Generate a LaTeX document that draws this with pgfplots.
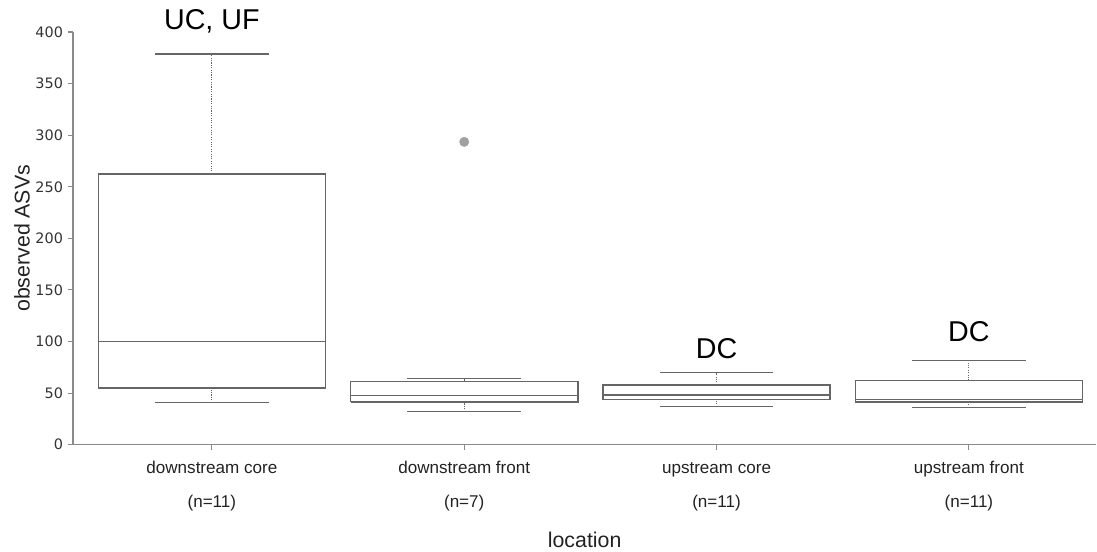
\documentclass[border=0pt]{standalone}
\usepackage{pgfplots}
\pgfplotsset{compat=1.18}
\usepackage{fontspec}
\setmainfont{Liberation Sans}
\newfontfamily\dejavu{DejaVu Sans}
\definecolor{boxgray}{HTML}{666666}
\definecolor{axgray}{HTML}{8A8A8A}
\definecolor{txt}{HTML}{222222}
\definecolor{outl}{HTML}{A0A0A0}
\begin{document}
\begin{tikzpicture}
\begin{axis}[
  at={(0,0)}, anchor=south west,
  scale only axis, width=768pt, height=309.75pt,
  xmin=-0.5505, xmax=3.505, ymin=0, ymax=400,
  axis x line=bottom, axis y line=left,
  axis line style={axgray, line width=1pt, -},
  clip=false,
  ytick={0,50,...,400},
  xtick={0,1,2,3},
  xticklabels={{\strut downstream core\\[10.5pt]\strut(n=11)},{\strut downstream front\\[10.5pt]\strut(n=7)},{\strut upstream core\\[10.5pt]\strut(n=11)},{\strut upstream front\\[10.5pt]\strut(n=11)}},
  xticklabel style={align=center, font=\fontsize{12.8}{15}\selectfont, text=txt, yshift=-3.5pt},
  yticklabel style={font=\dejavu\fontsize{10.8}{12}\selectfont, text=black!80},
  /pgf/number format/assume math mode=true,
  tick align=outside, major tick length=4pt,
  tick style={axgray, line width=0.8pt},
  xlabel={location}, ylabel={observed ASVs},
  every axis x label/.style={at={(axis description cs:0.5,0)}, yshift=-71.25pt, anchor=center, font=\fontsize{16}{19}\selectfont, text=txt},
  every axis y label/.style={at={(axis description cs:0,0.5)}, xshift=-38.25pt, rotate=90, anchor=center, font=\fontsize{16}{19}\selectfont, text=txt},
  boxln/.style={boxgray, line width=1.1pt, mark=none},
  whisk/.style={boxgray, line width=0.8pt, densely dotted, mark=none},
]
% downstream core
\addplot[whisk] coordinates {(0,40.7) (0,55.2)};
\addplot[whisk] coordinates {(0,262.5) (0,378.5)};
\addplot[boxln] coordinates {(-0.225,40.7) (0.225,40.7)};
\addplot[boxln] coordinates {(-0.225,378.5) (0.225,378.5)};
\addplot[boxln] coordinates {(-0.45,55.2) (0.45,55.2) (0.45,262.5) (-0.45,262.5) (-0.45,55.2)};
\addplot[boxln] coordinates {(-0.45,99.8) (0.45,99.8)};
% downstream front
\addplot[whisk] coordinates {(1,32) (1,41.4)};
\addplot[whisk] coordinates {(1,61.3) (1,64)};
\addplot[boxln] coordinates {(0.775,32) (1.225,32)};
\addplot[boxln] coordinates {(0.775,64) (1.225,64)};
\addplot[boxln] coordinates {(0.55,41.4) (1.45,41.4) (1.45,61.3) (0.55,61.3) (0.55,41.4)};
\addplot[boxln] coordinates {(0.55,47.5) (1.45,47.5)};
% upstream core
\addplot[whisk] coordinates {(2,36.8) (2,43.6)};
\addplot[whisk] coordinates {(2,58) (2,70)};
\addplot[boxln] coordinates {(1.775,36.8) (2.225,36.8)};
\addplot[boxln] coordinates {(1.775,70) (2.225,70)};
\addplot[boxln] coordinates {(1.55,43.6) (2.45,43.6) (2.45,58) (1.55,58) (1.55,43.6)};
\addplot[boxln] coordinates {(1.55,48.1) (2.45,48.1)};
% upstream front
\addplot[whisk] coordinates {(3,36) (3,41.6)};
\addplot[whisk] coordinates {(3,62.3) (3,81.7)};
\addplot[boxln] coordinates {(2.775,36) (3.225,36)};
\addplot[boxln] coordinates {(2.775,81.7) (3.225,81.7)};
\addplot[boxln] coordinates {(2.55,41.6) (3.45,41.6) (3.45,62.3) (2.55,62.3) (2.55,41.6)};
\addplot[boxln] coordinates {(2.55,44) (3.45,44)};
% outlier
\addplot[only marks, mark=*, mark size=3.5pt, color=outl] coordinates {(1,293.5)};
\node[font=\fontsize{21.5}{24}\selectfont, text=black] at (axis cs:0,410) {UC, UF};
\node[font=\fontsize{21.5}{24}\selectfont, text=black] at (axis cs:2,93) {DC};
\node[font=\fontsize{21.5}{24}\selectfont, text=black] at (axis cs:3,109.5) {DC};
\end{axis}
\path[use as bounding box] (-54.75pt,-76.5pt) rectangle (768pt,333.75pt);
\end{tikzpicture}
\end{document}
